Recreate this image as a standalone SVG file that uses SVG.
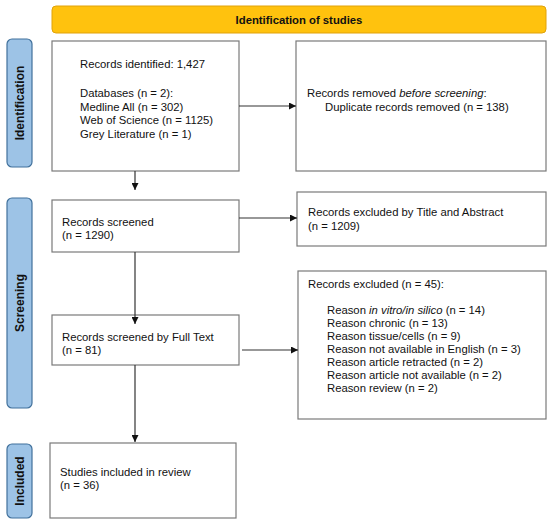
<svg xmlns="http://www.w3.org/2000/svg" width="550" height="522" viewBox="0 0 550 522">
<defs>
<style>
.box{fill:#fff;stroke:#7a7a7a;stroke-width:1.2}
.lab{fill:#9DC3E6;stroke:#41719C;stroke-width:1.2}
.t{font-family:"Liberation Sans",Arial,sans-serif;font-size:11.3px;fill:#111}
.tt{font-family:"Liberation Sans",Arial,sans-serif;font-size:11.3px;font-weight:bold;fill:#111}
.lt{font-family:"Liberation Sans",Arial,sans-serif;font-size:12px;font-weight:bold;fill:#111}
.ln{stroke:#333;stroke-width:1.2;fill:none}
</style>
<marker id="ah" viewBox="0 0 10 10" refX="10" refY="5" markerWidth="7" markerHeight="7" markerUnits="userSpaceOnUse" orient="auto">
<path d="M0,0 L10,5 L0,10 z" fill="#111"/>
</marker>
</defs>
<rect width="550" height="522" fill="#fff"/>
<g id="title">
<rect x="52" y="6" width="494" height="27" rx="4" fill="#FFC20E" stroke="#E0A20A" stroke-width="1"/>
<text class="tt" x="299" y="23.5" text-anchor="middle">Identification of studies</text>
</g>
<g id="label-identification">
<rect class="lab" x="7" y="39" width="25" height="128" rx="5"/>
<text class="lt" transform="translate(23.8,103) rotate(-90)" text-anchor="middle">Identification</text>
</g>
<g id="label-screening">
<rect class="lab" x="7" y="198" width="25" height="210" rx="5"/>
<text class="lt" transform="translate(23.8,303) rotate(-90)" text-anchor="middle">Screening</text>
</g>
<g id="label-included">
<rect class="lab" x="7" y="444" width="25" height="74" rx="5"/>
<text class="lt" transform="translate(23.8,481) rotate(-90)" text-anchor="middle">Included</text>
</g>
<g id="identified">
<rect class="box" x="52" y="41" width="187" height="130"/>
<text class="t" x="80" y="68">Records identified: 1,427</text>
<text class="t" x="80" y="97">Databases (n = 2):</text>
<text class="t" x="80" y="110.5">Medline All (n = 302)</text>
<text class="t" x="80" y="124">Web of Science (n = 1125)</text>
<text class="t" x="80" y="137.5">Grey Literature (n = 1)</text>
</g>
<g id="removed">
<rect class="box" x="296" y="41" width="250" height="130"/>
<text class="t" x="307" y="97">Records removed <tspan font-style="italic">before screening</tspan>:</text>
<text class="t" x="325" y="110.5">Duplicate records removed (n = 138)</text>
</g>
<g id="screened">
<rect class="box" x="52" y="200" width="187" height="52"/>
<text class="t" x="62" y="226">Records screened</text>
<text class="t" x="62" y="239">(n = 1290)</text>
</g>
<g id="excluded-ta">
<rect class="box" x="297" y="192" width="249" height="54"/>
<text class="t" x="308" y="216">Records excluded by Title and Abstract</text>
<text class="t" x="308" y="229.5">(n = 1209)</text>
</g>
<g id="fulltext">
<rect class="box" x="52" y="315" width="187" height="50"/>
<text class="t" x="62" y="341">Records screened by Full Text</text>
<text class="t" x="62" y="354">(n = 81)</text>
</g>
<g id="excluded-ft">
<rect class="box" x="298" y="271" width="248" height="148"/>
<text class="t" x="308" y="288">Records excluded (n = 45):</text>
<text class="t" x="327" y="314">Reason <tspan font-style="italic">in vitro/in silico</tspan> (n = 14)</text>
<text class="t" x="327" y="327">Reason chronic (n = 13)</text>
<text class="t" x="327" y="340">Reason tissue/cells (n = 9)</text>
<text class="t" x="327" y="353">Reason not available in English (n = 3)</text>
<text class="t" x="327" y="366">Reason article retracted (n = 2)</text>
<text class="t" x="327" y="379">Reason article not available (n = 2)</text>
<text class="t" x="327" y="392">Reason review (n = 2)</text>
</g>
<g id="included">
<rect class="box" x="50" y="443" width="186" height="75"/>
<text class="t" x="60" y="476">Studies included in review</text>
<text class="t" x="60" y="489">(n = 36)</text>
</g>
<g id="connectors">
<line class="ln" x1="239" y1="106" x2="296" y2="106" marker-end="url(#ah)"/>
<line class="ln" x1="135" y1="171" x2="135" y2="190" marker-end="url(#ah)"/>
<line class="ln" x1="239" y1="218" x2="297" y2="218" marker-end="url(#ah)"/>
<line class="ln" x1="135" y1="252" x2="135" y2="324" marker-end="url(#ah)"/>
<line class="ln" x1="242" y1="350" x2="298" y2="350" marker-end="url(#ah)"/>
<line class="ln" x1="135" y1="365" x2="135" y2="442" marker-end="url(#ah)"/>
</g>
</svg>
